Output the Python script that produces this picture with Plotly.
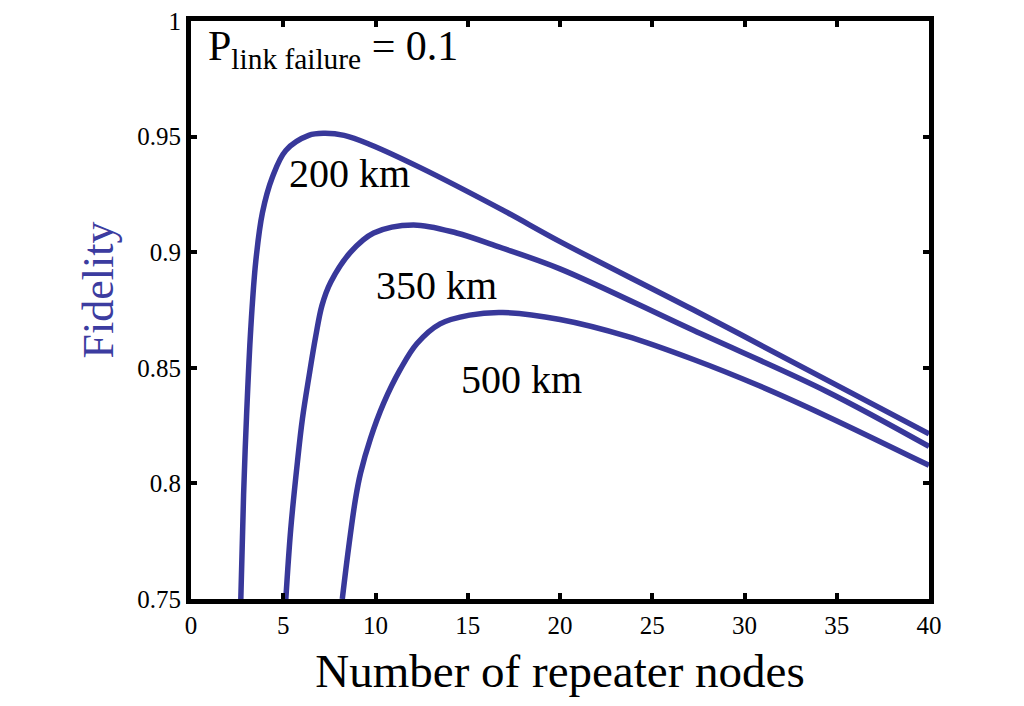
import plotly.graph_objects as go

# ---- data ----
x_tick_vals = [0, 5, 10, 15, 20, 25, 30, 35, 40]
y_tick_vals = [0.75, 0.8, 0.85, 0.9, 0.95, 1.0]
y_tick_text = ["0.75", "0.8", "0.85", "0.9", "0.95", "1"]

nodes_200 = [2.7, 2.85, 3.01, 3.24, 3.51, 3.87, 4.41, 5.14, 6.38, 7.2, 8.3, 9.73, 12.4, 16.9, 20.0, 27.2, 34.4, 40.0]
fid_200 = [0.75, 0.795, 0.829, 0.867, 0.896, 0.917, 0.9324, 0.944, 0.9505, 0.9514, 0.9505, 0.9465, 0.9367, 0.9182, 0.9046, 0.8752, 0.8450, 0.8214]

nodes_350 = [5.14, 5.41, 5.77, 6.04, 6.4, 6.76, 7.1, 7.57, 8.65, 9.9, 12.05, 14.4, 16.6, 20.0, 27.2, 34.4, 40.0]
fid_350 = [0.75, 0.7806, 0.8094, 0.828, 0.8465, 0.8636, 0.877, 0.887, 0.900, 0.9083, 0.9118, 0.9083, 0.9025, 0.8928, 0.8663, 0.8400, 0.8160]

nodes_500 = [8.2, 8.54, 8.92, 9.19, 9.73, 10.43, 11.35, 12.25, 13.5, 15.1, 16.9, 20.0, 23.6, 27.2, 30.8, 34.4, 40.0]
fid_500 = [0.75, 0.772, 0.7935, 0.8045, 0.8195, 0.8345, 0.8494, 0.8605, 0.869, 0.8728, 0.8739, 0.8709, 0.8637, 0.8537, 0.8422, 0.8293, 0.8078]

series = [
    ("200 km", nodes_200, fid_200),
    ("350 km", nodes_350, fid_350),
    ("500 km", nodes_500, fid_500),
]

# label positions (data coords) for the distance labels
label_text = ["200 km", "350 km", "500 km"]
label_x = [8.6, 13.3, 17.9]
label_y = [0.9340, 0.8855, 0.8450]

FONT = "Liberation Serif"
LINE_COLOR = "#38389a"

fig = go.Figure()
for name, xs, ys in series:
    fig.add_trace(go.Scatter(
        x=xs, y=ys, mode="lines", name=name,
        line=dict(color=LINE_COLOR, width=5.5, shape="spline", smoothing=1.0),
        showlegend=False, hoverinfo="skip",
    ))

for t, lx, ly in zip(label_text, label_x, label_y):
    fig.add_annotation(x=lx, y=ly, xref="x", yref="y", text=t, showarrow=False,
                       font=dict(family=FONT, size=40, color="black"),
                       xanchor="center", yanchor="middle")

fig.add_annotation(x=0.021, y=1.0, xref="paper", yref="paper", xanchor="left", yanchor="top",
                   text="P<sub>link failure</sub> = 0.1", showarrow=False,
                   font=dict(family=FONT, size=42, color="black"), yshift=0)

fig.add_annotation(x=-0.125, y=0.535, xref="paper", yref="paper", text="Fidelity",
                   textangle=-90, showarrow=False, xanchor="center", yanchor="middle",
                   font=dict(family=FONT, size=44, color="#3c3ca0"))

axis_common = dict(
    showline=True, linecolor="black", linewidth=5, mirror="ticks",
    ticks="inside", ticklen=6, tickwidth=4, tickcolor="black",
    showgrid=False, zeroline=False,
    tickfont=dict(family=FONT, size=25, color="black"),
)

fig.update_xaxes(range=[0, 40], tickvals=x_tick_vals,
                 title=dict(text="Number of repeater nodes", font=dict(family=FONT, size=47, color="black"), standoff=18),
                 **axis_common)
fig.update_yaxes(range=[0.75, 1.0], tickvals=y_tick_vals, ticktext=y_tick_text, **axis_common)

fig.update_layout(
    width=1024, height=706,
    margin=dict(l=191, r=95, t=21, b=107, autoexpand=False),
    paper_bgcolor="white", plot_bgcolor="white",
    font=dict(family=FONT),
)

fig.write_html("out.html", config={"displayModeBar": False})
